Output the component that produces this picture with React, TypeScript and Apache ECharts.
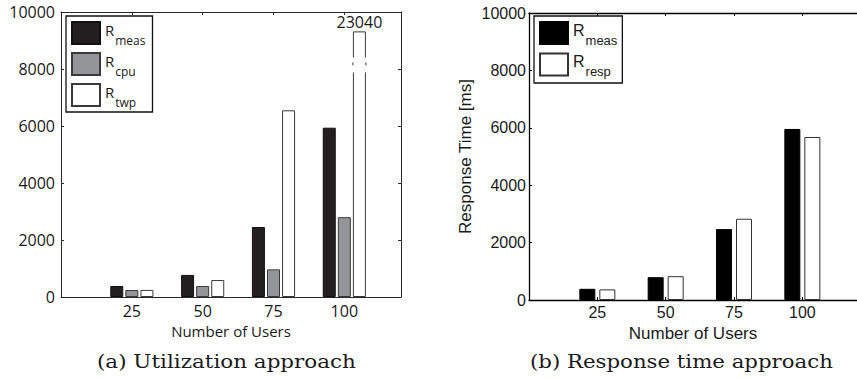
import React, { useEffect, useRef } from "react";
import * as echarts from "echarts";

// ---- data ----
const categories = [25, 50, 75, 100];
const utilMeas = [385, 775, 2455, 5940];
const utilCpu = [245, 385, 970, 2800];
const utilTwp = [250, 595, 6550, 9320]; // last bar truncated (true value below)
const twpTrueValue = "23040";
const respMeas = [390, 795, 2470, 5960];
const respResp = [370, 830, 2830, 5680];
const yMin = 0;
const yMax = 10000;
const yStep = 2000;
const xMin = 0;
const xMax = 120;
const xStep = 25;

const LEFT_FONT = "'Open Sans', sans-serif";
const RIGHT_FONT = "'Liberation Sans', Arial, sans-serif";
const CAPTION_FONT = "'DejaVu Serif', serif";

const legendNames: Record<string, [string, string]> = {
  "meas-a": ["R", "meas"],
  cpu: ["R", "cpu"],
  twp: ["R", "twp"],
  "meas-b": ["R", "meas"],
  resp: ["R", "resp"],
};

function pts(vals: number[]) {
  return vals.map((v, i) => [categories[i], v]);
}

export default function App() {
  const ref = useRef<HTMLDivElement>(null);
  useEffect(() => {
    if (!ref.current) return;
    const chart = echarts.init(ref.current, undefined, { renderer: "svg" });

    const xBase = (grid: number, pos: "bottom" | "top", font: string, size: number, color: string, lw: number, name?: string, nameGap?: number, nameSize?: number, labelMargin?: number) => ({
      type: "value",
      gridIndex: grid,
      position: pos,
      min: xMin,
      max: xMax,
      interval: xStep,
      splitLine: { show: false },
      axisLine: { show: true, onZero: false, lineStyle: { color, width: lw } },
      axisTick: { show: true, inside: true, length: 3, lineStyle: { color, width: 1 } },
      axisLabel: pos === "bottom"
        ? {
            show: true,
            showMinLabel: false,
            showMaxLabel: false,
            margin: labelMargin,
            fontFamily: font,
            fontSize: size,
            color: "#1a1a1a",
            formatter: (v: number) => String(v),
          }
        : { show: false },
      name: name,
      nameLocation: "middle",
      nameGap: nameGap,
      nameTextStyle: { fontFamily: font, fontSize: nameSize, color: "#1a1a1a" },
    });

    const yBase = (grid: number, pos: "left" | "right", font: string, size: number, color: string, lw: number, labelMargin: number, name?: string, nameGap?: number, nameSize?: number, show = true) => ({
      type: "value",
      show,
      gridIndex: grid,
      position: pos,
      min: yMin,
      max: yMax,
      interval: yStep,
      splitLine: { show: false },
      axisLine: { show: true, onZero: false, lineStyle: { color, width: lw } },
      axisTick: { show: true, inside: true, length: 3, lineStyle: { color, width: 1 } },
      axisLabel: pos === "left"
        ? {
            show: true,
            margin: labelMargin,
            fontFamily: font,
            fontSize: size,
            color: "#1a1a1a",
            formatter: (v: number) => String(v),
          }
        : { show: false },
      name: name,
      nameLocation: "middle",
      nameGap: nameGap,
      nameTextStyle: { fontFamily: font, fontSize: nameSize, color: "#1a1a1a" },
    });

    const legendCommon = (font: string, rSize: number, sSize: number) => ({
      orient: "vertical",
      icon: "rect",
      itemWidth: 28,
      itemHeight: 22,
      itemGap: 6,
      backgroundColor: "#fff",
      borderColor: "#111",
      borderWidth: 1.3,
      borderRadius: 0,
      selectedMode: false,
      formatter: (n: string) => {
        const p = legendNames[n];
        return `{r|${p[0]}}{s|${p[1]}}`;
      },
      textStyle: {
        fontFamily: font,
        color: "#1a1a1a",
        rich: {
          r: { fontFamily: font, fontSize: rSize, color: "#1a1a1a", padding: [0, 0, 6, 0] },
          s: { fontFamily: font, fontSize: sSize, color: "#1a1a1a", padding: [14, 0, 0, 1] },
        },
      },
    });

    const option: any = {
      animation: false,
      backgroundColor: "#fff",
      grid: [
        { left: 61, top: 12, width: 340, height: 285, containLabel: false },
        { left: 529, top: 13, width: 335, height: 287, containLabel: false },
      ],
      xAxis: [
        xBase(0, "bottom", LEFT_FONT, 16, "#2a2a2a", 1, "Number of Users", 21, 15, 6),
        xBase(0, "top", LEFT_FONT, 16, "#2a2a2a", 1),
        xBase(1, "bottom", RIGHT_FONT, 16, "#000", 1.3, "Number of Users", 19, 17, 4),
        xBase(1, "top", RIGHT_FONT, 16, "#000", 1.3),
      ],
      yAxis: [
        yBase(0, "left", LEFT_FONT, 16, "#2a2a2a", 1, 6),
        yBase(0, "right", LEFT_FONT, 16, "#2a2a2a", 1, 5),
        yBase(1, "left", RIGHT_FONT, 16, "#000", 1.3, 3, "Response Time [ms]", 55, 17),
        yBase(1, "right", RIGHT_FONT, 16, "#000", 1.3, 3, undefined, undefined, undefined, false),
      ],
      legend: [
        {
          ...legendCommon(LEFT_FONT, 15, 12),
          left: 66,
          top: 16,
          padding: [5, 7, 4, 5],
          data: ["meas-a", "cpu", "twp"],
        },
        {
          ...legendCommon(RIGHT_FONT, 16, 13),
          left: 534,
          top: 16,
          padding: [5, 5, 5, 5],
          data: ["meas-b", "resp"],
        },
      ],
      series: [
        {
          name: "meas-a",
          type: "bar",
          xAxisIndex: 0,
          yAxisIndex: 0,
          barWidth: 13,
          barGap: "16%",
          itemStyle: { color: "#231f20", borderColor: "#111", borderWidth: 1 },
          data: pts(utilMeas),
        },
        {
          name: "cpu",
          type: "bar",
          xAxisIndex: 0,
          yAxisIndex: 0,
          barWidth: 13,
          barGap: "16%",
          itemStyle: { color: "#939598", borderColor: "#3a3a3a", borderWidth: 1 },
          data: pts(utilCpu),
        },
        {
          name: "twp",
          type: "bar",
          xAxisIndex: 0,
          yAxisIndex: 0,
          barWidth: 13,
          barGap: "16%",
          itemStyle: { color: "#ffffff", borderColor: "#3a3a3a", borderWidth: 1 },
          data: pts(utilTwp).map((p, i) =>
            i === utilTwp.length - 1
              ? {
                  value: p,
                  label: {
                    show: true,
                    position: "top",
                    distance: 1,
                    formatter: twpTrueValue,
                    fontFamily: LEFT_FONT,
                    fontSize: 16,
                    color: "#1a1a1a",
                  },
                }
              : p
          ),
        },
        {
          name: "meas-b",
          type: "bar",
          xAxisIndex: 2,
          yAxisIndex: 2,
          barWidth: 16,
          barGap: "25%",
          itemStyle: { color: "#000", borderColor: "#000", borderWidth: 1 },
          data: pts(respMeas),
        },
        {
          name: "resp",
          type: "bar",
          xAxisIndex: 2,
          yAxisIndex: 2,
          barWidth: 16,
          barGap: "25%",
          itemStyle: { color: "#fff", borderColor: "#333", borderWidth: 1 },
          data: pts(respResp),
        },
      ],
      graphic: [
        {
          type: "text",
          x: 97,
          y: 352,
          scaleX: 1.13,
          style: {
            text: "(a) Utilization approach",
            fontFamily: CAPTION_FONT,
            fontSize: 19,
            fill: "#1a1a1a",
          },
        },
        {
          type: "text",
          x: 530,
          y: 352,
          scaleX: 1.12,
          style: {
            text: "(b) Response time approach",
            fontFamily: CAPTION_FONT,
            fontSize: 19,
            fill: "#1a1a1a",
          },
        },
      ],
    };
    chart.setOption(option);

    // axis-break marker on the truncated bar
    try {
      const data = (chart as any).getModel().getSeriesByIndex(2).getData();
      const lay = data.getItemLayout(utilTwp.length - 1);
      if (lay) {
        const xl = Math.min(lay.x, lay.x + lay.width);
        const xr = Math.max(lay.x, lay.x + lay.width);
        const yTop = Math.min(lay.y, lay.y + lay.height);
        const g0 = yTop + 26;
        const g1 = yTop + 41;
        const els: any[] = [];
        [xl, xr].forEach((x) => {
          els.push({ type: "rect", shape: { x: x - 1.5, y: g0, width: 3, height: g1 - g0 }, style: { fill: "#fff" }, z: 100 });
          els.push({ type: "line", shape: { x1: x, y1: g0 + 5, x2: x, y2: g0 + 8 }, style: { stroke: "#3a3a3a", lineWidth: 1 }, z: 101 });
        });
        chart.setOption({ graphic: (option.graphic as any[]).concat(els) });
      }
    } catch (e) {
      // ignore
    }

    return () => chart.dispose();
  }, []);
  return (
    <div
      ref={ref}
      style={{ position: "fixed", left: 0, top: 0, width: 857, height: 379, background: "#fff" }}
    />
  );
}
